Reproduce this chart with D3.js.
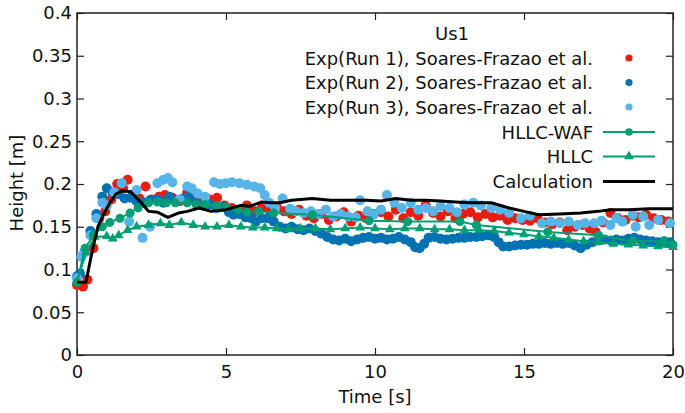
<!DOCTYPE html>
<html>
<head>
<meta charset="utf-8">
<script src="https://cdn.jsdelivr.net/npm/d3@7"></script>
<style>
  html, body { margin: 0; padding: 0; background: #fff; }
  svg { display: block; font-family: "DejaVu Sans", sans-serif; }
</style>
</head>
<body>
<svg id="chart"></svg>
<script>
// Experimental data, [time (s), height (m)]
const run1 = [
  [0.0, 0.082], [0.2, 0.080], [0.35, 0.088], [0.55, 0.125], [0.75, 0.160], [0.95, 0.168],
  [1.15, 0.182], [1.35, 0.200], [1.55, 0.195], [1.7, 0.205], [1.9, 0.188], [2.1, 0.183],
  [2.3, 0.197], [2.5, 0.182], [2.75, 0.185], [2.95, 0.187], [3.2, 0.184], [3.45, 0.180],
  [3.7, 0.190], [3.95, 0.182], [4.2, 0.178], [4.45, 0.182], [4.7, 0.184], [4.95, 0.175],
  [5.2, 0.172], [5.45, 0.170], [5.7, 0.175], [5.95, 0.168], [6.2, 0.172], [6.45, 0.170],
  [6.7, 0.173], [6.95, 0.168], [7.2, 0.165], [7.45, 0.170], [7.7, 0.163], [7.95, 0.160],
  [8.2, 0.165], [8.45, 0.158], [8.7, 0.162], [8.95, 0.167], [9.2, 0.156], [9.45, 0.163],
  [9.7, 0.160], [9.95, 0.165], [10.2, 0.167], [10.45, 0.162], [10.7, 0.170], [10.95, 0.160],
  [11.2, 0.167], [11.45, 0.163], [11.7, 0.175], [11.95, 0.166], [12.2, 0.162], [12.45, 0.168],
  [12.7, 0.160], [12.95, 0.165], [13.2, 0.167], [13.45, 0.161], [13.7, 0.165], [13.95, 0.161],
  [14.2, 0.163], [14.45, 0.158], [14.7, 0.160], [14.95, 0.158], [15.2, 0.157], [15.45, 0.160],
  [15.7, 0.155], [15.95, 0.153], [16.2, 0.155], [16.45, 0.146], [16.7, 0.150], [16.95, 0.152],
  [17.2, 0.148], [17.4, 0.144], [17.65, 0.155], [17.9, 0.166], [18.15, 0.160], [18.4, 0.158],
  [18.65, 0.163], [18.85, 0.161], [19.1, 0.164], [19.35, 0.160], [19.6, 0.158], [19.85, 0.156]
];

const run2 = [
  [0.0, 0.092], [0.1, 0.095], [0.25, 0.120], [0.45, 0.145], [0.65, 0.165], [0.85, 0.185],
  [1.0, 0.195], [1.2, 0.190], [1.4, 0.188], [1.6, 0.183], [1.8, 0.184], [2.0, 0.180],
  [2.25, 0.178], [2.45, 0.181], [2.7, 0.182], [2.9, 0.178], [3.1, 0.185], [3.35, 0.180],
  [3.55, 0.183], [3.75, 0.185], [4.0, 0.178], [4.2, 0.175], [4.45, 0.176], [4.7, 0.172],
  [4.9, 0.173], [5.1, 0.167], [5.25, 0.164], [5.45, 0.165], [5.65, 0.161], [5.85, 0.160],
  [6.0, 0.156], [6.2, 0.160], [6.4, 0.160], [6.6, 0.156], [6.8, 0.150], [7.0, 0.148],
  [7.2, 0.150], [7.4, 0.147], [7.6, 0.146], [7.8, 0.148], [8.0, 0.145], [8.2, 0.142],
  [8.4, 0.138], [8.6, 0.135], [8.8, 0.134], [9.0, 0.136], [9.2, 0.133], [9.4, 0.135],
  [9.6, 0.137], [9.8, 0.138], [10.0, 0.136], [10.2, 0.137], [10.4, 0.135], [10.6, 0.136],
  [10.8, 0.138], [11.0, 0.135], [11.2, 0.132], [11.35, 0.126], [11.5, 0.125], [11.65, 0.130],
  [11.8, 0.137], [12.0, 0.138], [12.2, 0.136], [12.4, 0.135], [12.6, 0.136], [12.8, 0.137],
  [13.0, 0.137], [13.2, 0.138], [13.4, 0.138], [13.6, 0.139], [13.8, 0.140], [14.0, 0.138],
  [14.15, 0.132], [14.3, 0.127], [14.5, 0.127], [14.7, 0.128], [14.9, 0.129], [15.1, 0.129],
  [15.3, 0.130], [15.5, 0.130], [15.7, 0.131], [15.9, 0.130], [16.1, 0.131], [16.3, 0.130],
  [16.5, 0.131], [16.7, 0.128], [16.9, 0.125], [17.1, 0.129], [17.3, 0.132], [17.5, 0.134],
  [17.7, 0.135], [17.9, 0.134], [18.1, 0.135], [18.3, 0.134], [18.5, 0.136], [18.7, 0.137],
  [18.9, 0.135], [19.1, 0.134], [19.3, 0.133], [19.5, 0.132], [19.7, 0.133], [19.9, 0.132]
];

const run3 = [
  [0.0, 0.090], [0.15, 0.115], [0.25, 0.120], [0.45, 0.140], [0.65, 0.160], [0.85, 0.178],
  [1.0, 0.175], [1.25, 0.190], [1.5, 0.201], [1.75, 0.156], [2.0, 0.193], [2.2, 0.137],
  [2.45, 0.150], [2.7, 0.201], [2.9, 0.205], [3.05, 0.207], [3.2, 0.202], [3.45, 0.182],
  [3.7, 0.197], [3.85, 0.195], [4.05, 0.189], [4.3, 0.185], [4.6, 0.202], [4.8, 0.200],
  [5.0, 0.201], [5.2, 0.202], [5.45, 0.201], [5.7, 0.199], [5.95, 0.197], [6.15, 0.195],
  [6.3, 0.187], [6.45, 0.178], [6.65, 0.172], [6.9, 0.183], [7.15, 0.171], [7.35, 0.168],
  [7.6, 0.166], [7.85, 0.168], [8.1, 0.165], [8.35, 0.170], [8.6, 0.162], [8.85, 0.165],
  [9.1, 0.162], [9.35, 0.161], [9.5, 0.181], [9.75, 0.168], [9.95, 0.164], [10.2, 0.170],
  [10.4, 0.187], [10.65, 0.178], [10.9, 0.172], [11.2, 0.178], [11.45, 0.170], [11.7, 0.172],
  [11.95, 0.168], [12.2, 0.174], [12.5, 0.172], [12.75, 0.167], [13.0, 0.176], [13.3, 0.178],
  [13.55, 0.175], [13.9, 0.172], [14.2, 0.170], [14.5, 0.166], [14.9, 0.160], [15.2, 0.163],
  [15.6, 0.154], [15.9, 0.156], [16.2, 0.154], [16.5, 0.156], [16.8, 0.152], [17.05, 0.154],
  [17.35, 0.154], [17.6, 0.157], [17.9, 0.152], [18.1, 0.160], [18.3, 0.156], [18.65, 0.164],
  [18.75, 0.150], [19.0, 0.162], [19.2, 0.152], [19.5, 0.158], [19.9, 0.154]
];

// Simulation results
const hllcWaf = [
  [0.0, 0.085], [0.27, 0.125], [0.55, 0.140], [0.85, 0.150], [1.1, 0.155], [1.44, 0.160],
  [1.78, 0.166], [2.05, 0.172], [2.4, 0.178], [2.7, 0.179], [3.0, 0.178], [3.3, 0.178],
  [3.7, 0.178], [4.0, 0.176], [4.3, 0.176], [4.7, 0.175], [5.0, 0.173], [5.4, 0.170],
  [5.7, 0.167], [6.1, 0.168], [6.6, 0.166], [7.9, 0.164], [9.8, 0.157], [11.1, 0.156],
  [12.85, 0.156], [13.4, 0.152], [15.8, 0.144], [17.5, 0.140], [18.65, 0.133], [19.7, 0.133],
  [20.0, 0.129]
];

const hllc = [
  [0.0, 0.085], [0.3, 0.120], [0.6, 0.138], [1.0, 0.139], [1.2, 0.136], [1.4, 0.140],
  [1.7, 0.146], [2.0, 0.150], [2.4, 0.152], [2.8, 0.154], [3.1, 0.152], [3.5, 0.155],
  [3.9, 0.152], [4.3, 0.150], [4.7, 0.150], [5.1, 0.152], [5.5, 0.150], [5.9, 0.149],
  [6.3, 0.149], [6.7, 0.148], [7.1, 0.147], [7.5, 0.148], [8.0, 0.148], [8.5, 0.147],
  [9.0, 0.148], [9.5, 0.149], [10.0, 0.148], [10.5, 0.147], [11.0, 0.148], [11.5, 0.148],
  [12.0, 0.147], [12.5, 0.147], [13.0, 0.146], [13.5, 0.146], [14.0, 0.145], [14.5, 0.143],
  [15.0, 0.141], [15.5, 0.139], [16.0, 0.137], [16.5, 0.135], [17.0, 0.133], [17.5, 0.132],
  [18.0, 0.130], [18.5, 0.129], [19.0, 0.128], [19.5, 0.127], [20.0, 0.126]
];

const calculation = [
  [0.0, 0.085], [0.3, 0.085], [0.5, 0.120], [0.7, 0.150], [0.9, 0.165], [1.1, 0.178],
  [1.3, 0.188], [1.5, 0.192], [1.8, 0.191], [2.1, 0.180], [2.4, 0.168], [2.7, 0.167],
  [3.05, 0.161], [3.4, 0.166], [3.7, 0.168], [4.1, 0.172], [4.5, 0.168], [5.0, 0.170],
  [5.5, 0.175], [5.8, 0.174], [6.2, 0.179], [6.5, 0.178], [6.8, 0.178], [7.2, 0.181],
  [7.9, 0.183], [8.5, 0.181], [9.0, 0.181], [9.7, 0.181], [10.2, 0.180], [10.7, 0.183],
  [11.2, 0.181], [11.7, 0.181], [12.2, 0.180], [12.7, 0.179], [13.2, 0.178], [13.9, 0.178],
  [14.5, 0.172], [15.0, 0.168], [15.5, 0.164], [16.2, 0.165], [16.9, 0.166], [17.5, 0.168],
  [17.9, 0.170], [18.5, 0.170], [19.2, 0.171], [20.0, 0.171]
];

const xTicks = [0, 5, 10, 15, 20];
const yTicks = [0, 0.05, 0.1, 0.15, 0.2, 0.25, 0.3, 0.35, 0.4];

const legendTitle = "Us1";
const legendLabels = [
  "Exp(Run 1), Soares-Frazao et al.",
  "Exp(Run 2), Soares-Frazao et al.",
  "Exp(Run 3), Soares-Frazao et al.",
  "HLLC-WAF",
  "HLLC",
  "Calculation"
];

const width = 685;
const height = 413;
const margin = { top: 13, right: 12, bottom: 58, left: 77 };
const fontSize = 18;
const colors = { red: "#e51e10", blue: "#0072b2", light: "#56b4e9", green: "#009e73" };

const svg = d3.select("#chart")
  .attr("width", width)
  .attr("height", height)
  .style("font-size", fontSize + "px");

const x = d3.scaleLinear().domain([0, 20]).range([margin.left, width - margin.right]);
const y = d3.scaleLinear().domain([0, 0.4]).range([height - margin.bottom, margin.top]);

// Axes: ticks point inward, mirrored on top and right
const tickLen = 7;
const axisColor = "#222";

svg.append("g")
  .attr("transform", `translate(0,${y(0)})`)
  .call(d3.axisBottom(x).tickValues(xTicks).tickSize(-tickLen).tickPadding(10).tickFormat(d3.format("d")))
  .call(g => g.select(".domain").remove());

svg.append("g")
  .attr("transform", `translate(0,${y(0.4)})`)
  .call(d3.axisTop(x).tickValues(xTicks).tickSize(-tickLen).tickFormat(""))
  .call(g => g.select(".domain").remove());

svg.append("g")
  .attr("transform", `translate(${x(0)},0)`)
  .call(d3.axisLeft(y).tickValues(yTicks).tickSize(-tickLen).tickPadding(5).tickFormat(d => d3.format("")(+d.toFixed(2))))
  .call(g => g.select(".domain").remove());

svg.append("g")
  .attr("transform", `translate(${x(20)},0)`)
  .call(d3.axisRight(y).tickValues(yTicks).tickSize(-tickLen).tickFormat(""))
  .call(g => g.select(".domain").remove());

svg.selectAll(".tick line").attr("stroke", axisColor).attr("stroke-width", 1.2);
svg.selectAll(".tick text")
  .attr("fill", "#111")
  .style("font-size", fontSize + "px")
  .style("font-family", "'DejaVu Sans', sans-serif");

svg.append("rect")
  .attr("x", x(0))
  .attr("y", y(0.4))
  .attr("width", x(20) - x(0))
  .attr("height", y(0) - y(0.4))
  .attr("fill", "none")
  .attr("stroke", axisColor)
  .attr("stroke-width", 1.5);

// Axis titles
svg.append("text")
  .attr("x", (x(0) + x(20)) / 2)
  .attr("y", 396)
  .attr("text-anchor", "middle")
  .attr("dominant-baseline", "central")
  .attr("fill", "#111")
  .text("Time [s]");

svg.append("text")
  .attr("transform", `translate(16,${(y(0) + y(0.4)) / 2 - 1}) rotate(-90)`)
  .attr("text-anchor", "middle")
  .attr("dominant-baseline", "central")
  .attr("fill", "#111")
  .text("Height [m]");

// Plot data
const plot = svg.append("g");

const drawDots = (data, color) => {
  plot.append("g")
    .selectAll("circle")
    .data(data)
    .join("circle")
    .attr("cx", d => x(d[0]))
    .attr("cy", d => y(d[1]))
    .attr("r", 5)
    .attr("fill", color);
};

drawDots(run1, colors.red);
drawDots(run2, colors.blue);
drawDots(run3, colors.light);

const line = d3.line()
  .x(d => x(d[0]))
  .y(d => y(d[1]));

plot.append("path")
  .datum(hllcWaf)
  .attr("fill", "none")
  .attr("stroke", colors.green)
  .attr("stroke-width", 2)
  .attr("d", line);

plot.append("g")
  .selectAll("circle")
  .data(hllcWaf)
  .join("circle")
  .attr("cx", d => x(d[0]))
  .attr("cy", d => y(d[1]))
  .attr("r", 4.5)
  .attr("fill", colors.green);

const triangle = d3.symbol().type(d3.symbolTriangle).size(42);

plot.append("path")
  .datum(hllc)
  .attr("fill", "none")
  .attr("stroke", colors.green)
  .attr("stroke-width", 2)
  .attr("d", line);

plot.append("g")
  .selectAll("path")
  .data(hllc)
  .join("path")
  .attr("transform", d => `translate(${x(d[0])},${y(d[1])})`)
  .attr("d", triangle)
  .attr("fill", colors.green);

plot.append("path")
  .datum(calculation)
  .attr("fill", "none")
  .attr("stroke", "#000")
  .attr("stroke-width", 3)
  .attr("stroke-linejoin", "round")
  .attr("d", line);

// Legend
const legend = svg.append("g");
const textRight = 593;
const sampleX = 629;
const rowY = [58, 82.5, 107, 132, 156.5, 181.5];

legend.append("text")
  .attr("x", 452)
  .attr("y", 33)
  .attr("text-anchor", "middle")
  .attr("dominant-baseline", "central")
  .attr("fill", "#111")
  .text(legendTitle);

legend.selectAll(".lbl")
  .data(legendLabels)
  .join("text")
  .attr("class", "lbl")
  .attr("x", textRight)
  .attr("y", (d, i) => rowY[i])
  .attr("text-anchor", "end")
  .attr("dominant-baseline", "central")
  .attr("fill", "#111")
  .text(d => d);

[colors.red, colors.blue, colors.light].forEach((c, i) => {
  legend.append("circle")
    .attr("cx", sampleX)
    .attr("cy", rowY[i])
    .attr("r", 3.6)
    .attr("fill", c);
});

[3, 4, 5].forEach(i => {
  legend.append("line")
    .attr("x1", 603)
    .attr("x2", 655)
    .attr("y1", rowY[i])
    .attr("y2", rowY[i])
    .attr("stroke", i === 5 ? "#000" : colors.green)
    .attr("stroke-width", i === 5 ? 3 : 2);
});

legend.append("circle")
  .attr("cx", sampleX)
  .attr("cy", rowY[3])
  .attr("r", 3.8)
  .attr("fill", colors.green);

legend.append("path")
  .attr("transform", `translate(${sampleX},${rowY[4]})`)
  .attr("d", triangle)
  .attr("fill", colors.green);
</script>
</body>
</html>
